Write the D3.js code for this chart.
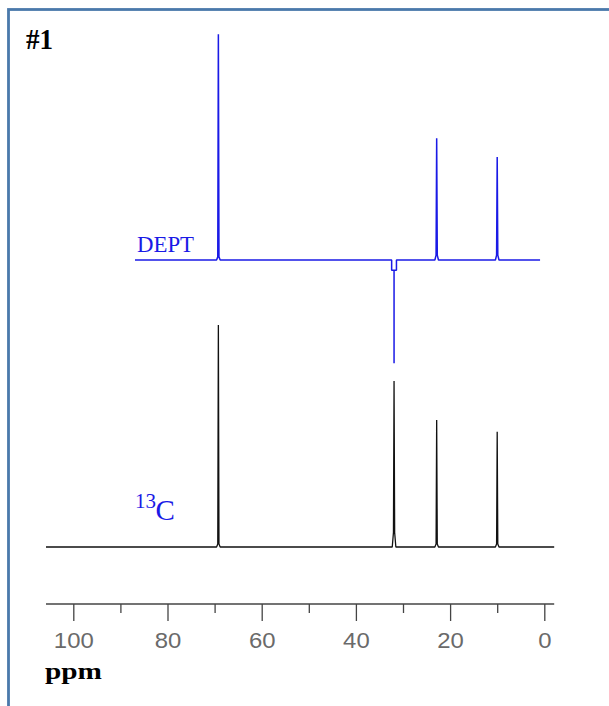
<!DOCTYPE html>
<html>
<head>
<meta charset="utf-8">
<script src="https://cdn.jsdelivr.net/npm/d3@7"></script>
<style>
  html, body { margin: 0; padding: 0; background: #ffffff; }
  svg { display: block; }
</style>
</head>
<body>
<svg id="chart" width="609" height="706"></svg>
<script>
// ---- data ----
const majorTicks = [100, 80, 60, 40, 20, 0];
const minorTicks = [90, 70, 50, 30, 10];
const axisRange = [105.8, -2.1];          // ppm extent of the axis / 13C baseline
const deptRange = [86.9, 0.9];            // ppm extent of the DEPT baseline

const shifts = [69.2, 31.9, 22.85, 10.0]; // 2-butanol carbons (ppm)
const c13Intensity = [100, 74.8, 57.2, 51.9];
const c13Foot = [1.3, 6.5, 1.3, 1.3];
const deptIntensity = [101.7, -46.5, 54.8, 46.4];
const deptFoot = [1.4, -4.6, 2.2, 2.2];

const titleText = "#1";
const deptLabel = "DEPT";
const c13Sup = "13";
const c13Main = "C";
const axisTitle = "ppm";

// ---- layout ----
const svg = d3.select("#chart");
const x = d3.scaleLinear().domain([100, 0]).range([73.3, 544.3]);
const yC = d3.scaleLinear().domain([0, 100]).range([547, 325]);
const yD = d3.scaleLinear().domain([0, 100]).range([260, 38]);
const axisY = 604;
const blue = "#1a1ae6";

// frame
svg.append("rect")
  .attr("x", 8.5).attr("y", 9.5)
  .attr("width", 800).attr("height", 900)
  .attr("fill", "none")
  .attr("stroke", "#4a79ab")
  .attr("stroke-width", 2.8);

// title
svg.append("text")
  .attr("x", 26).attr("y", 49)
  .attr("font-family", "Liberation Serif, Times New Roman, serif")
  .attr("font-weight", "bold")
  .attr("font-size", 30)
  .attr("textLength", 27).attr("lengthAdjust", "spacingAndGlyphs")
  .attr("fill", "#000")
  .text(titleText);

// spectrum path builder
function spectrumPath(range, y, intens, foot) {
  const p = d3.path();
  const base = y(0);
  p.moveTo(x(range[0]), base);
  const idx = d3.range(shifts.length).sort((a, b) => shifts[b] - shifts[a]);
  idx.forEach(i => {
    const px = x(shifts[i]);
    const top = y(intens[i]);
    const f = y(foot[i]);
    if (intens[i] < 0) {
      p.lineTo(px - 2.4, base);
      p.lineTo(px - 2.4, f);
      p.lineTo(px, f);
      p.lineTo(px, top);
      p.lineTo(px, f);
      p.lineTo(px + 2.4, f);
      p.lineTo(px + 2.4, base);
    } else {
      p.lineTo(px - 1.8, base);
      p.lineTo(px - 0.6, f);
      p.lineTo(px, top);
      p.lineTo(px + 0.6, f);
      p.lineTo(px + 1.8, base);
    }
  });
  p.lineTo(x(range[1]), base);
  return p.toString();
}

// 13C spectrum
svg.append("path")
  .attr("d", spectrumPath(axisRange, yC, c13Intensity, c13Foot))
  .attr("fill", "none")
  .attr("stroke", "#111")
  .attr("stroke-width", 1.3)
  .attr("stroke-linejoin", "bevel");

// DEPT spectrum
svg.append("path")
  .attr("d", spectrumPath(deptRange, yD, deptIntensity, deptFoot))
  .attr("fill", "none")
  .attr("stroke", blue)
  .attr("stroke-width", 1.5)
  .attr("stroke-linejoin", "bevel");

// labels
svg.append("text")
  .attr("x", 137).attr("y", 252)
  .attr("font-family", "Liberation Serif, Times New Roman, serif")
  .attr("font-size", 22.5)
  .attr("textLength", 57).attr("lengthAdjust", "spacingAndGlyphs")
  .attr("fill", blue)
  .text(deptLabel);

const c13 = svg.append("text")
  .attr("font-family", "Liberation Serif, Times New Roman, serif")
  .attr("fill", blue);
c13.append("tspan")
  .attr("x", 135).attr("y", 508)
  .attr("font-size", 21)
  .text(c13Sup);
c13.append("tspan")
  .attr("x", 155.5).attr("y", 519.5)
  .attr("font-size", 29)
  .text(c13Main);

// axis
svg.append("line")
  .attr("x1", x(axisRange[0])).attr("x2", x(axisRange[1]))
  .attr("y1", axisY).attr("y2", axisY)
  .attr("stroke", "#444").attr("stroke-width", 1.4);

const gMajor = svg.append("g")
  .attr("transform", `translate(0,${axisY})`)
  .call(d3.axisBottom(x).tickValues(majorTicks).tickSize(17).tickPadding(0).tickSizeOuter(0));
gMajor.select(".domain").remove();
gMajor.selectAll(".tick line").attr("stroke", "#444").attr("stroke-width", 1.3);
gMajor.selectAll(".tick text")
  .attr("y", 44).attr("dy", 0)
  .attr("font-family", "Liberation Sans, Arial, sans-serif")
  .attr("font-size", 22)
  .attr("fill", "#6a6a6a")
  .attr("text-anchor", "middle")
  .each(function (d) {
    const s = String(d);
    d3.select(this).attr("textLength", s.length * 13.3).attr("lengthAdjust", "spacingAndGlyphs");
  });

const gMinor = svg.append("g")
  .attr("transform", `translate(0,${axisY})`)
  .call(d3.axisBottom(x).tickValues(minorTicks).tickSize(9).tickFormat("").tickSizeOuter(0));
gMinor.select(".domain").remove();
gMinor.selectAll(".tick line").attr("stroke", "#444").attr("stroke-width", 1.3);

// axis title
svg.append("text")
  .attr("x", 45).attr("y", 679)
  .attr("font-family", "Liberation Serif, Times New Roman, serif")
  .attr("font-weight", "bold")
  .attr("font-size", 23)
  .attr("textLength", 57).attr("lengthAdjust", "spacingAndGlyphs")
  .attr("fill", "#000")
  .text(axisTitle);
</script>
</body>
</html>
